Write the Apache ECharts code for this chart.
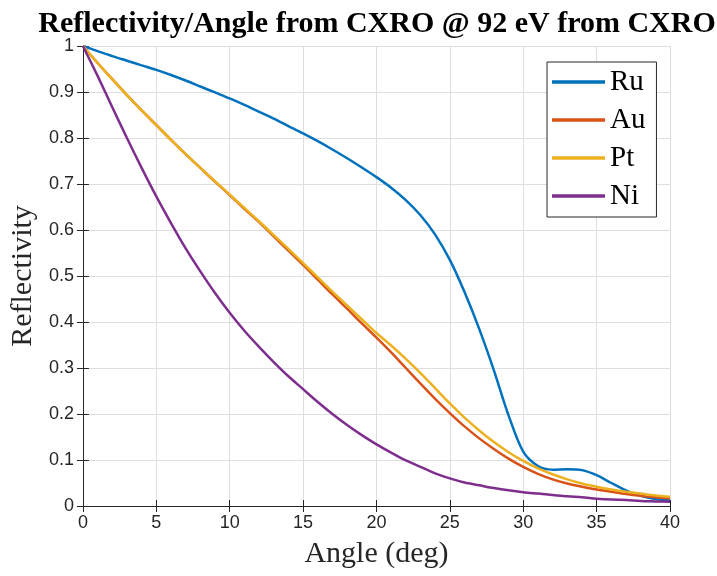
<!DOCTYPE html>
<html>
<head>
<meta charset="utf-8">
<title>Reflectivity vs Angle</title>
<script src="https://cdn.jsdelivr.net/npm/echarts@6/dist/echarts.min.js"></script>
<style>
  html, body { margin: 0; padding: 0; background: #fff; }
  #chart { width: 717px; height: 576px; }
</style>
</head>
<body>
<div id="chart"></div>
<script>
// Grazing angle in degrees
const angles = [0,1,2,3,4,5,6,7,8,9,10,11,12,13,14,15,16,17,18,19,20,
                21,22,23,24,25,26,27,28,29,30,31,32,33,34,35,36,37,38,39,40];

// Reflectivity per material at 92 eV
const ru = [1.000,0.989,0.978,0.968,0.958,0.948,0.937,0.925,0.912,0.899,0.886,
            0.872,0.857,0.842,0.826,0.810,0.793,0.775,0.756,0.736,0.715,
            0.692,0.665,0.632,0.590,0.535,0.465,0.385,0.295,0.197,0.118,
            0.087,0.079,0.080,0.078,0.067,0.050,0.034,0.022,0.015,0.012];
const au = [1.000,0.963,0.928,0.893,0.860,0.828,0.796,0.765,0.735,0.705,0.676,
            0.646,0.617,0.586,0.555,0.524,0.492,0.460,0.429,0.397,0.366,
            0.334,0.300,0.266,0.233,0.202,0.173,0.147,0.124,0.103,0.085,
            0.070,0.058,0.049,0.042,0.036,0.031,0.026,0.022,0.019,0.017];
const pt = [1.000,0.963,0.928,0.893,0.860,0.828,0.796,0.765,0.735,0.706,0.677,
            0.648,0.619,0.589,0.559,0.528,0.497,0.466,0.436,0.406,0.376,
            0.349,0.320,0.289,0.256,0.223,0.192,0.164,0.139,0.117,0.098,
            0.082,0.069,0.058,0.049,0.042,0.036,0.031,0.027,0.023,0.020];
const ni = [1.000,0.935,0.867,0.800,0.735,0.673,0.615,0.560,0.510,0.463,0.420,
            0.381,0.346,0.313,0.282,0.254,0.226,0.200,0.176,0.154,0.134,
            0.116,0.099,0.085,0.071,0.060,0.051,0.045,0.039,0.034,0.030,
            0.027,0.024,0.021,0.019,0.016,0.014,0.013,0.011,0.010,0.009];

const seriesNames = ['Ru', 'Au', 'Pt', 'Ni'];
const seriesColors = ['#0072BD', '#D95319', '#EDB120', '#7E2F8E'];
const seriesValues = [ru, au, pt, ni];

const axisColor = '#262626';
const gridColor = '#dedede';
const serif = '"Liberation Serif", "Times New Roman", serif';
const sans = '"Liberation Sans", Arial, sans-serif';

const chart = echarts.init(document.getElementById('chart'), null, { renderer: 'canvas' });

// Top and right edges of the axes box: ticks only, no labels
const frameAxis = {
  type: 'value', min: 0, axisLine: { show: true, lineStyle: { color: axisColor, width: 1 } },
  axisTick: { show: true, inside: true, length: 6, lineStyle: { color: axisColor } },
  axisLabel: { show: false }, splitLine: { show: false }
};

chart.setOption({
  animation: false,
  backgroundColor: '#fff',
  title: {
    text: 'Reflectivity/Angle from CXRO @ 92 eV from CXRO',
    left: 372, top: 4, textAlign: 'center',
    textStyle: { fontFamily: serif, fontWeight: 'bold', fontSize: 30, color: '#000' }
  },
  grid: { left: 82, right: 47, top: 46, bottom: 70 },
  legend: {
    orient: 'vertical', left: 547, top: 62,
    data: seriesNames,
    icon: 'rect', itemWidth: 53, itemHeight: 3.5, itemGap: 8,
    padding: [5, 11, 6, 5],
    borderColor: axisColor, borderWidth: 1, backgroundColor: '#fff',
    textStyle: { fontFamily: serif, fontSize: 29, color: '#000', lineHeight: 30 }
  },
  xAxis: [{
    type: 'value', min: 0, max: 40, interval: 5,
    name: 'Angle (deg)', nameLocation: 'middle', nameGap: 33,
    nameTextStyle: { fontFamily: serif, fontSize: 30, color: axisColor },
    axisLine: { show: true, onZero: false, lineStyle: { color: axisColor, width: 1 } },
    axisTick: { show: true, inside: true, length: 6, lineStyle: { color: axisColor } },
    axisLabel: { fontFamily: sans, fontSize: 18, color: axisColor, margin: 8 },
    splitLine: { show: true, lineStyle: { color: gridColor, width: 1 } }
  }, Object.assign({}, frameAxis, { position: 'top', max: 40, interval: 5 })],
  yAxis: [{
    type: 'value', min: 0, max: 1, interval: 0.1,
    name: 'Reflectivity', nameLocation: 'middle', nameGap: 34,
    nameTextStyle: { fontFamily: serif, fontSize: 30, color: axisColor },
    axisLine: { show: true, onZero: false, lineStyle: { color: axisColor, width: 1 } },
    axisTick: { show: true, inside: true, length: 6, lineStyle: { color: axisColor } },
    axisLabel: { fontFamily: sans, fontSize: 18, color: axisColor, margin: 9 },
    splitLine: { show: true, lineStyle: { color: gridColor, width: 1 } }
  }, Object.assign({}, frameAxis, { position: 'right', max: 1, interval: 0.1 })],
  series: seriesNames.map((name, i) => ({
    name: name,
    type: 'line',
    xAxisIndex: 0, yAxisIndex: 0,
    data: angles.map((a, k) => [a, seriesValues[i][k]]),
    showSymbol: false, symbol: 'none',
    smooth: 0.3,
    color: seriesColors[i],
    lineStyle: { color: seriesColors[i], width: 2.5 },
    z: 2 + i
  }))
});
</script>
</body>
</html>
